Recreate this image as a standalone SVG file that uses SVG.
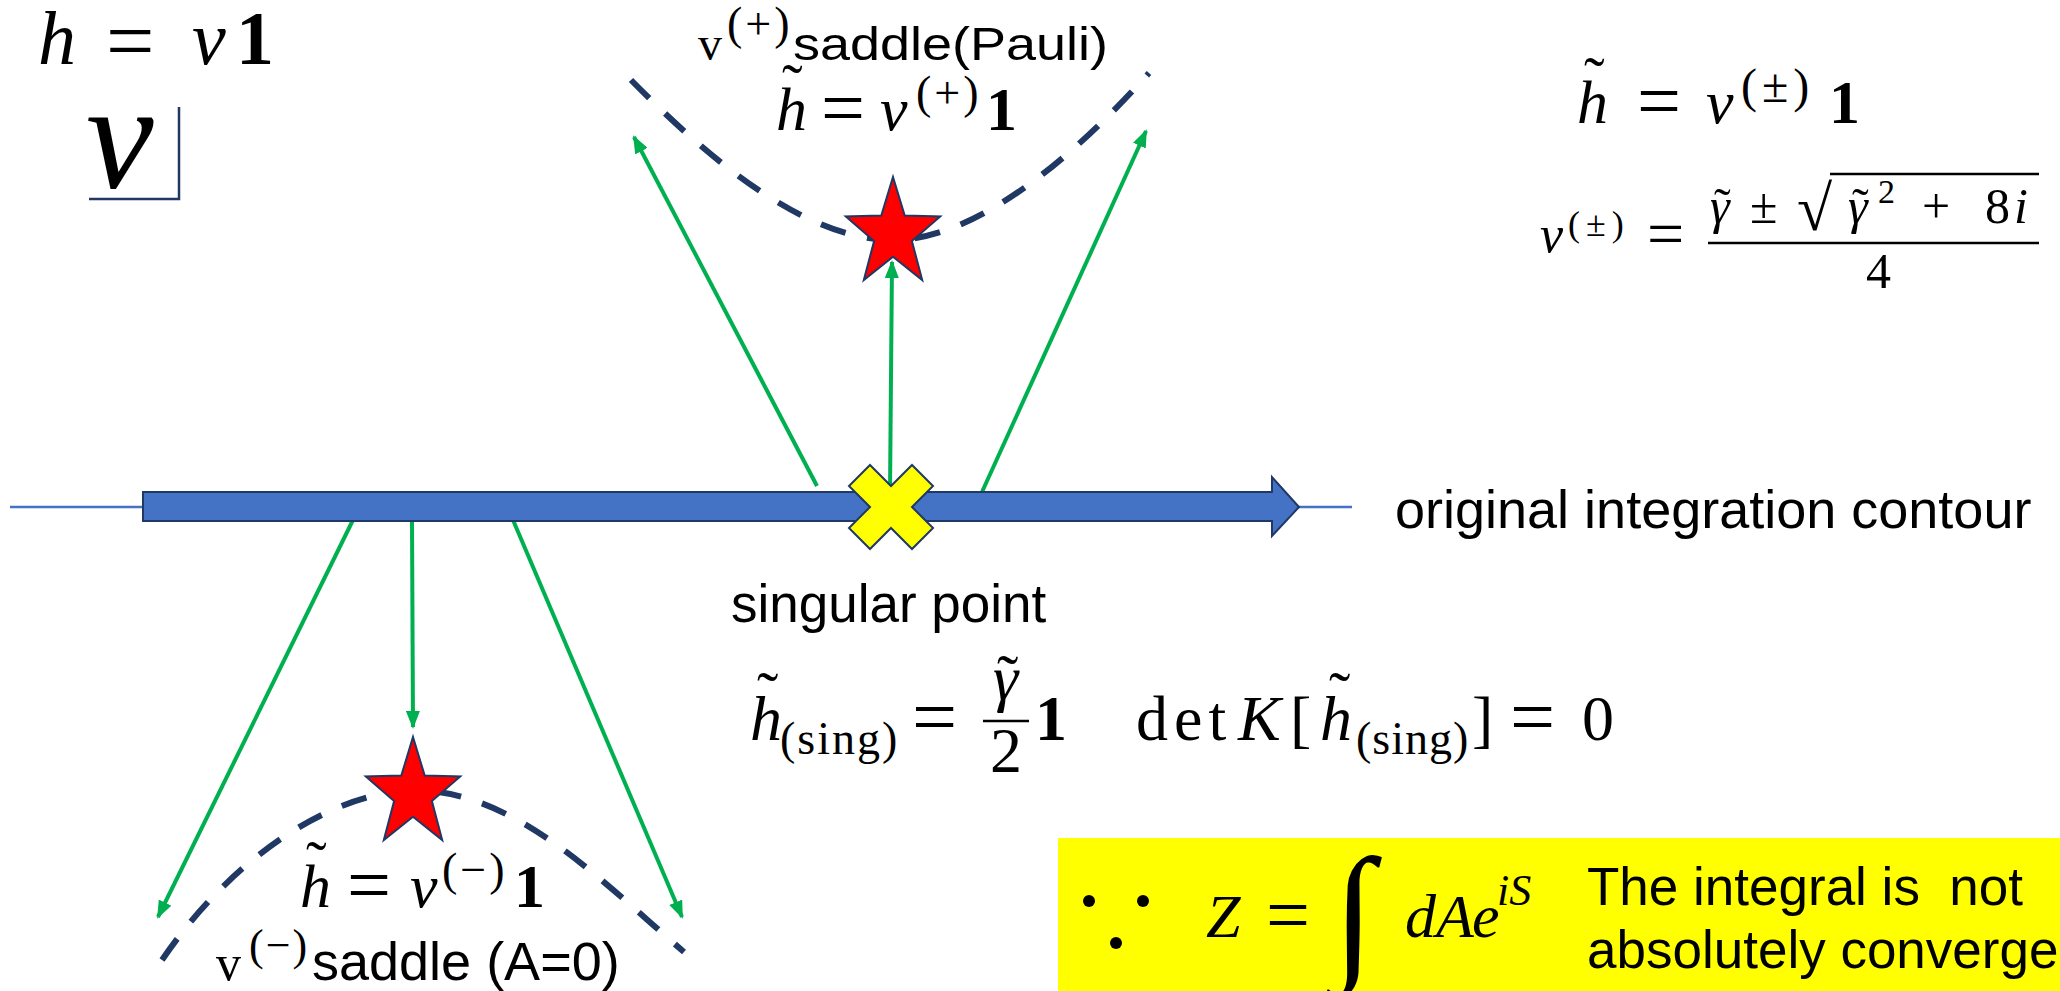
<svg xmlns="http://www.w3.org/2000/svg" width="2060" height="991" viewBox="0 0 2060 991">
<style>
.mi{font-family:"Liberation Serif","Times New Roman",serif;font-style:italic;fill:#000}
.mr{font-family:"Liberation Serif","Times New Roman",serif;font-style:normal;fill:#000}
.mb{font-family:"Liberation Serif","Times New Roman",serif;font-weight:bold;font-style:normal;fill:#000}
.sf{font-family:"Liberation Sans",Arial,sans-serif;fill:#000}
.dash{fill:none;stroke:#1F3864;stroke-width:6;stroke-dasharray:26 22}
.green{stroke:#00B050;stroke-width:4;fill:none;marker-end:url(#ga)}
.star{fill:#FF0000;stroke:#1F3864;stroke-width:2}
</style>
<defs>
<marker id="ga" markerWidth="18" markerHeight="14" refX="16" refY="7" orient="auto" markerUnits="userSpaceOnUse"><path d="M0,0 L18,7 L0,14 z" fill="#00B050"/></marker>
<polygon id="starShape" points="0,-57 11.7,-18.4 47.2,-17.6 18.9,7 29.2,46.1 0,22.8 -29.2,46.1 -18.9,7 -47.2,-17.6 -11.7,-18.4"/>
</defs>
<rect width="2060" height="991" fill="#fff"/>

<!-- top-left -->
<g id="hv1">
<text class="mr" font-size="76"><tspan class="mi" x="38" y="64">h</tspan><tspan class="mr" x="106" y="70" font-size="86">=</tspan><tspan class="mi" x="192" y="64">v</tspan><tspan class="mb" x="236" y="64">1</tspan></text>
</g>
<g id="vbox">
<text class="mi" x="86" y="188" font-size="152">v</text>
<path d="M179,107 V199 H89" fill="none" stroke="#1F3864" stroke-width="2.5"/>
</g>

<!-- dashed curves -->
<g id="curves">
<path class="dash" d="M631,80 C700,150 800,240 893,240 C980,240 1080,150 1149,73"/>
<path class="dash" d="M162,960 C230,860 330,790 420,790 C520,795 600,880 684,952"/>
</g>

<!-- connectors -->
<g id="connectors">
<line class="green" x1="817" y1="486" x2="634" y2="137"/>
<line class="green" x1="890" y1="492" x2="892" y2="262"/>
<line class="green" x1="982" y1="492" x2="1146" y2="131"/>
<line class="green" x1="353" y1="520" x2="158" y2="917"/>
<line class="green" x1="412" y1="520" x2="413" y2="727"/>
<line class="green" x1="513" y1="520" x2="682" y2="917"/>
</g>

<!-- contour -->
<g id="contour">
<line x1="10" y1="507" x2="1352" y2="507" stroke="#4472C4" stroke-width="2.5"/>
<polygon points="143,492 1272,492 1272,477 1299,507 1272,536 1272,521 143,521" fill="#4472C4" stroke="#1F3864" stroke-width="2"/>
<text class="sf" x="1395" y="528" font-size="54">original integration contour</text>
</g>

<g id="singular">
<polygon points="870,465 891,486 912,465 933,486 912,507 933,528 912,549 891,528 870,549 849,528 870,507 849,486" fill="#FFFF00" stroke="#1F3864" stroke-width="2"/>
<text class="sf" x="731" y="622" font-size="53">singular point</text>
</g>

<!-- saddle (+) -->
<g id="saddle-plus">
<use href="#starShape" class="star" transform="translate(893,234)"/>
<text class="mr" font-size="48"><tspan x="698" y="60">v</tspan><tspan x="727" y="39" font-size="46" letter-spacing="3">(+)</tspan></text>
<text class="sf" x="793" y="60" font-size="47" textLength="315" lengthAdjust="spacingAndGlyphs">saddle(Pauli)</text>
<text class="mr" font-size="62"><tspan class="mi" x="776" y="130">h</tspan><tspan x="782" y="107">˜</tspan><tspan x="821" y="134" font-size="78">=</tspan><tspan class="mi" x="880" y="130">v</tspan><tspan x="916" y="108" font-size="46" letter-spacing="3">(+)</tspan><tspan class="mb" x="986" y="130">1</tspan></text>
</g>

<!-- saddle (-) -->
<g id="saddle-minus">
<use href="#starShape" class="star" transform="translate(413,794)"/>
<text class="mr" font-size="62"><tspan class="mi" x="300" y="907">h</tspan><tspan x="306" y="884">˜</tspan><tspan x="347" y="911" font-size="78">=</tspan><tspan class="mi" x="410" y="907">v</tspan><tspan x="442" y="885" font-size="46" letter-spacing="3">(−)</tspan><tspan class="mb" x="514" y="907">1</tspan></text>
<text class="mr" font-size="50"><tspan x="216" y="980">v</tspan><tspan x="249" y="960" font-size="44" letter-spacing="2">(−)</tspan></text>
<text class="sf" x="312" y="980" font-size="54">saddle (A=0)</text>
</g>

<!-- singular formula -->
<g id="sing-formula">
<text class="mr" font-size="64"><tspan class="mi" x="750" y="740">h</tspan><tspan x="757" y="716">˜</tspan><tspan x="780" y="754" font-size="46" letter-spacing="2">(sing)</tspan><tspan x="912" y="744" font-size="80">=</tspan><tspan class="mi" x="993" y="699">γ</tspan><tspan x="997" y="699">˜</tspan><tspan x="990" y="772">2</tspan><tspan class="mb" x="1035" y="740">1</tspan><tspan x="1136" y="740" letter-spacing="6">det</tspan><tspan class="mi" x="1238" y="740">K</tspan><tspan x="1290" y="740">[</tspan><tspan class="mi" x="1320" y="740">h</tspan><tspan x="1329" y="716">˜</tspan><tspan x="1356" y="754" font-size="46" letter-spacing="1">(sing)</tspan><tspan x="1472" y="740">]</tspan><tspan x="1510" y="744" font-size="80">=</tspan><tspan x="1582" y="740">0</tspan></text>
<line x1="983" y1="721" x2="1029" y2="721" stroke="#000" stroke-width="2.5"/>
</g>

<!-- right formulas -->
<g id="vpm">
<text class="mr" font-size="62"><tspan class="mi" x="1577" y="123">h</tspan><tspan x="1584" y="100">˜</tspan><tspan x="1637" y="127" font-size="78">=</tspan><tspan class="mi" x="1706" y="123">v</tspan><tspan x="1741" y="102" font-size="48" letter-spacing="5">(±)</tspan><tspan class="mb" x="1829" y="123">1</tspan></text>
<text class="mr" font-size="50"><tspan class="mi" x="1540" y="252" font-size="52">v</tspan><tspan x="1568" y="236" font-size="36" letter-spacing="6">(±)</tspan><tspan x="1647" y="256" font-size="66">=</tspan><tspan class="mi" x="1710" y="223">γ</tspan><tspan x="1714" y="223">˜</tspan><tspan x="1750" y="223">±</tspan><tspan x="1797" y="230" font-size="64">√</tspan><tspan class="mi" x="1848" y="223">γ</tspan><tspan x="1852" y="223">˜</tspan><tspan x="1878" y="203" font-size="34">2</tspan><tspan x="1922" y="223">+</tspan><tspan x="1985" y="223">8</tspan><tspan class="mi" x="2014" y="223">i</tspan><tspan x="1866" y="288">4</tspan></text>
<line x1="1830" y1="174" x2="2039" y2="174" stroke="#000" stroke-width="2.5"/>
<line x1="1708" y1="243" x2="2039" y2="243" stroke="#000" stroke-width="2.5"/>
</g>

<!-- yellow box -->
<g id="note">
<rect x="1058" y="838" width="1002" height="153" fill="#FFFF00"/>
<circle cx="1089" cy="901" r="6" fill="#000"/>
<circle cx="1143" cy="901" r="6" fill="#000"/>
<circle cx="1116" cy="943" r="6" fill="#000"/>
<text class="mi" font-size="62"><tspan x="1206" y="937">Z</tspan><tspan class="mr" x="1266" y="941" font-size="78">=</tspan><tspan x="1333" y="962" font-size="150">∫</tspan><tspan x="1405" y="937">d</tspan><tspan x="1436" y="937">A</tspan><tspan x="1472" y="937">e</tspan><tspan x="1497" y="905" font-size="44">iS</tspan></text>
<text class="sf" x="1587" y="905" font-size="53" xml:space="preserve">The integral is  not</text>
<text class="sf" x="1587" y="968" font-size="53">absolutely converge</text>
</g>
</svg>
